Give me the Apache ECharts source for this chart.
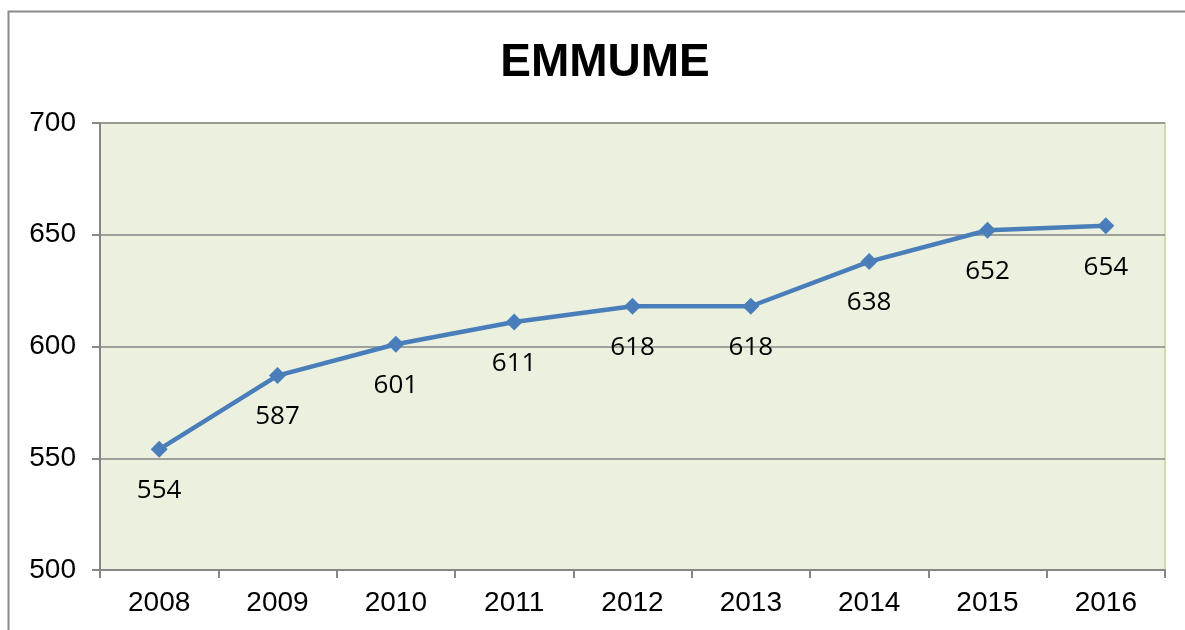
<!DOCTYPE html>
<html>
<head>
<meta charset="utf-8">
<script src="https://cdn.jsdelivr.net/npm/echarts@6/dist/echarts.min.js"></script>
<style>
  html, body { margin: 0; padding: 0; background: #fff; }
  #chart { width: 1185px; height: 630px; }
</style>
</head>
<body>
<div id="chart"></div>
<script>
var years = ["2008", "2009", "2010", "2011", "2012", "2013", "2014", "2015", "2016"];
var values = [554, 587, 601, 611, 618, 618, 638, 652, 654];

var myChart = echarts.init(document.getElementById("chart"));
var option = {
  animation: false,
  title: {
    text: "EMMUME",
    left: 600,
    top: 35,
    textAlign: "center",
    textStyle: { fontFamily: "Liberation Sans", fontSize: 46, fontWeight: "bold", color: "#000" }
  },
  graphic: [
    {
      type: "rect",
      shape: { x: 8.5, y: 11.5, width: 1200, height: 700 },
      style: { fill: "none", stroke: "#8a8a8a", lineWidth: 2 },
      silent: true
    },
    {
      type: "rect",
      shape: { x: 100, y: 123, width: 1065, height: 447 },
      style: { fill: "#EBF1DE", stroke: "#D0DDB2", lineWidth: 2 },
      silent: true,
      z: -1
    }
  ],
  grid: { left: 100, right: 20, top: 123, bottom: 60 },
  xAxis: {
    type: "category",
    data: years,
    boundaryGap: true,
    axisLine: { lineStyle: { color: "#868686", width: 2 } },
    axisTick: { show: true, length: 8, lineStyle: { color: "#868686", width: 2 } },
    axisLabel: { fontFamily: "Liberation Sans", fontSize: 28, color: "#000", margin: 19 }
  },
  yAxis: {
    type: "value",
    min: 500,
    max: 700,
    interval: 50,
    axisLine: { show: true, lineStyle: { color: "#868686", width: 2 } },
    axisTick: { show: true, length: 8, lineStyle: { color: "#868686", width: 2 } },
    splitLine: { lineStyle: { color: "#868686", width: 1.5 } },
    axisLabel: { fontFamily: "Liberation Sans", fontSize: 28, color: "#000", margin: 24 }
  },
  series: [
    {
      type: "line",
      data: values,
      symbol: "diamond",
      symbolSize: 17,
      lineStyle: { color: "#4A7EBB", width: 4.5 },
      itemStyle: { color: "#4A7EBB" },
      label: {
        show: true,
        position: "bottom",
        distance: 20,
        fontFamily: "Open Sans",
        fontSize: 26,
        color: "#000"
      }
    }
  ]
};
myChart.setOption(option);
</script>
</body>
</html>
